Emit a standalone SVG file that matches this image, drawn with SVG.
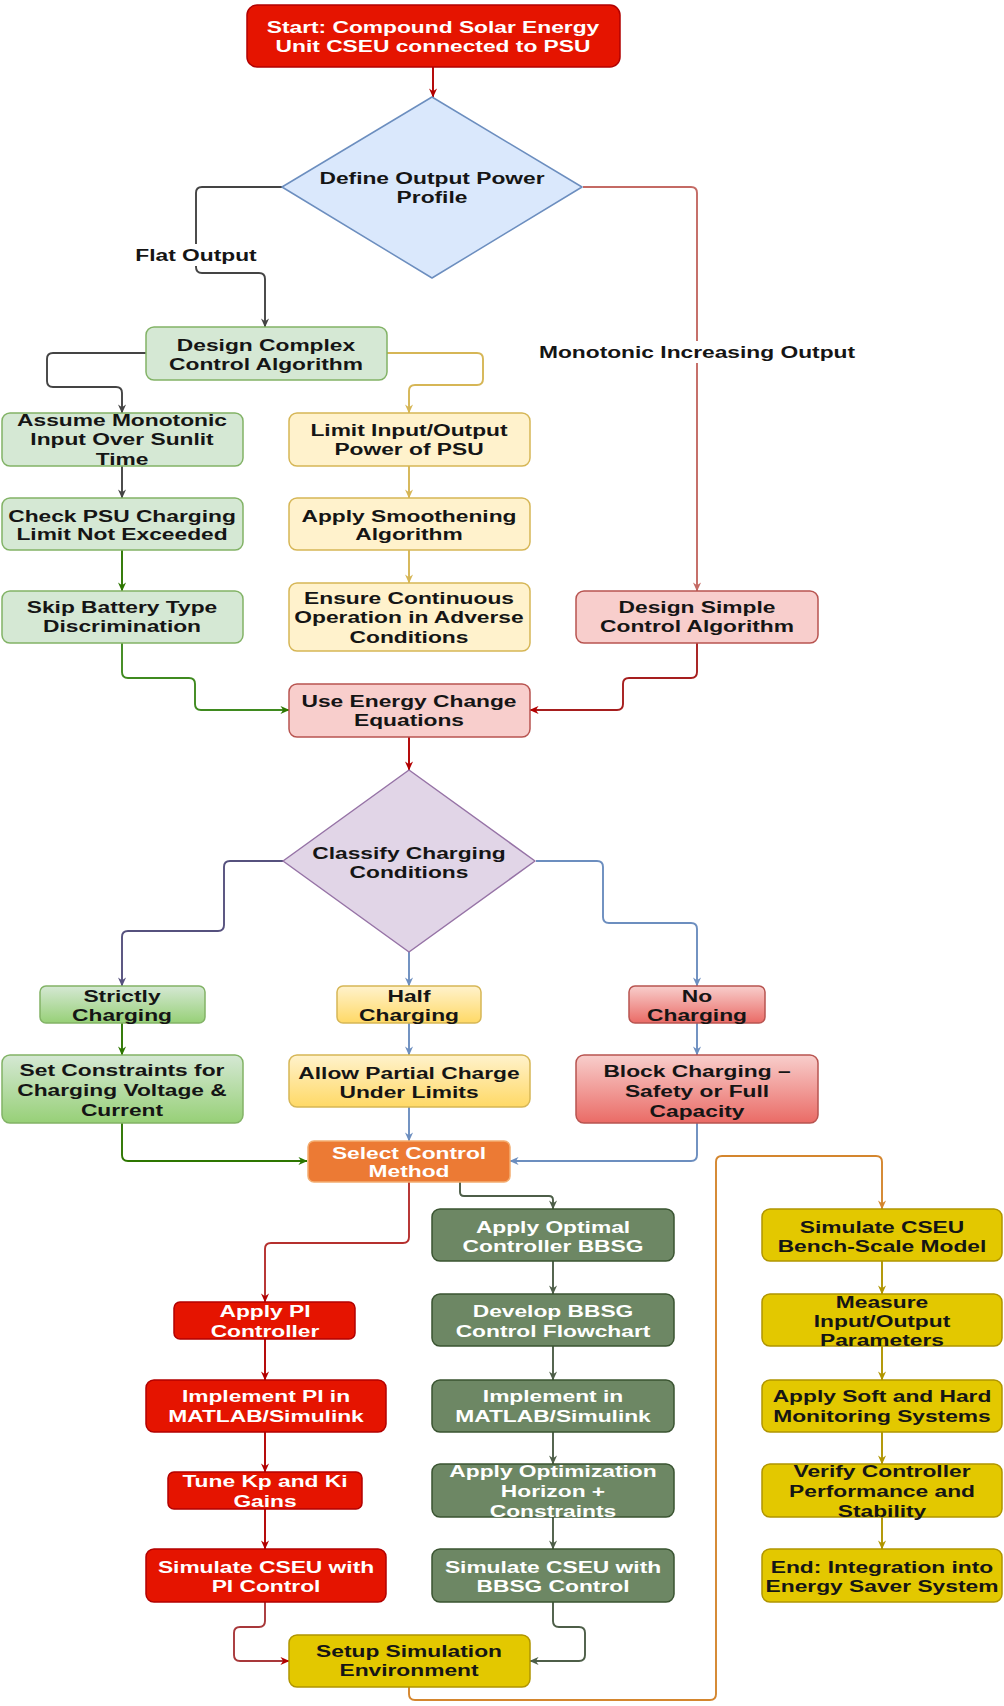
<svg xmlns="http://www.w3.org/2000/svg" width="1004" height="1706" viewBox="0 0 1004 1706">
<style>
.t{font-family:"Liberation Sans",Arial,Helvetica,sans-serif;font-weight:bold;font-size:17px;text-anchor:middle;fill:#151515}
.wt{fill:#ffffff}
.n{stroke-width:1.5}
.c{fill:none;stroke-width:1.9;stroke-linecap:butt}
.red{fill:#e51400;stroke:#b20000}
.grn{fill:#d5e8d4;stroke:#82b366}
.yel{fill:#fff2cc;stroke:#d6b656}
.pnk{fill:#f8cecc;stroke:#b85450}
.blu{fill:#dae8fc;stroke:#6c8ebf}
.pur{fill:#e1d5e7;stroke:#9673a6}
.ggr{fill:url(#gG);stroke:#82b366}
.gyl{fill:url(#gY);stroke:#d6b656}
.grd{fill:url(#gR);stroke:#b85450}
.org{fill:#ec7a34;stroke:#f3ad70}
.olv{fill:#6d8764;stroke:#3a5431}
.gld{fill:#e3c800;stroke:#b09500}
</style>
<defs>
<linearGradient id="gG" x1="0" y1="0" x2="0" y2="1"><stop offset="0" stop-color="#d5e8d4"/><stop offset="1" stop-color="#97d077"/></linearGradient>
<linearGradient id="gY" x1="0" y1="0" x2="0" y2="1"><stop offset="0" stop-color="#fff2cc"/><stop offset="1" stop-color="#ffd966"/></linearGradient>
<linearGradient id="gR" x1="0" y1="0" x2="0" y2="1"><stop offset="0" stop-color="#f8cecc"/><stop offset="1" stop-color="#ea6b66"/></linearGradient>
<marker id="mGy" viewBox="0 0 10 10" refX="9.5" refY="5" markerWidth="9" markerHeight="9" markerUnits="userSpaceOnUse" orient="auto"><path d="M0,0.5 L10,5 L0,9.5 L3,5 z" fill="#444444"/></marker>
<marker id="mRd" viewBox="0 0 10 10" refX="9.5" refY="5" markerWidth="9" markerHeight="9" markerUnits="userSpaceOnUse" orient="auto"><path d="M0,0.5 L10,5 L0,9.5 L3,5 z" fill="#b20000"/></marker>
<marker id="mPk" viewBox="0 0 10 10" refX="9.5" refY="5" markerWidth="9" markerHeight="9" markerUnits="userSpaceOnUse" orient="auto"><path d="M0,0.5 L10,5 L0,9.5 L3,5 z" fill="#c46a64"/></marker>
<marker id="mYl" viewBox="0 0 10 10" refX="9.5" refY="5" markerWidth="9" markerHeight="9" markerUnits="userSpaceOnUse" orient="auto"><path d="M0,0.5 L10,5 L0,9.5 L3,5 z" fill="#d6b656"/></marker>
<marker id="mGn" viewBox="0 0 10 10" refX="9.5" refY="5" markerWidth="9" markerHeight="9" markerUnits="userSpaceOnUse" orient="auto"><path d="M0,0.5 L10,5 L0,9.5 L3,5 z" fill="#2d7600"/></marker>
<marker id="mPu" viewBox="0 0 10 10" refX="9.5" refY="5" markerWidth="9" markerHeight="9" markerUnits="userSpaceOnUse" orient="auto"><path d="M0,0.5 L10,5 L0,9.5 L3,5 z" fill="#56517e"/></marker>
<marker id="mBl" viewBox="0 0 10 10" refX="9.5" refY="5" markerWidth="9" markerHeight="9" markerUnits="userSpaceOnUse" orient="auto"><path d="M0,0.5 L10,5 L0,9.5 L3,5 z" fill="#6c8ebf"/></marker>
<marker id="mOl" viewBox="0 0 10 10" refX="9.5" refY="5" markerWidth="9" markerHeight="9" markerUnits="userSpaceOnUse" orient="auto"><path d="M0,0.5 L10,5 L0,9.5 L3,5 z" fill="#4d5e48"/></marker>
<marker id="mOr" viewBox="0 0 10 10" refX="9.5" refY="5" markerWidth="9" markerHeight="9" markerUnits="userSpaceOnUse" orient="auto"><path d="M0,0.5 L10,5 L0,9.5 L3,5 z" fill="#d4862e"/></marker>
<marker id="mGo" viewBox="0 0 10 10" refX="9.5" refY="5" markerWidth="9" markerHeight="9" markerUnits="userSpaceOnUse" orient="auto"><path d="M0,0.5 L10,5 L0,9.5 L3,5 z" fill="#b09500"/></marker>
</defs>
<rect width="1004" height="1706" fill="#ffffff"/>

<g id="connectors">
<path class="c" stroke="#b20000" stroke-width="2.2" marker-end="url(#mRd)" d="M433,67 V97"/>
<path class="c" stroke="#444444" marker-end="url(#mGy)" d="M282,187 H202 Q196,187 196,193 V267 Q196,273 202,273 H259 Q265,273 265,279 V327"/>
<path class="c" stroke="#c46a64" marker-end="url(#mPk)" d="M583,187 H691 Q697,187 697,193 V591"/>
<path class="c" stroke="#444444" marker-end="url(#mGy)" d="M146,353 H53 Q47,353 47,359 V381 Q47,387 53,387 H116 Q122,387 122,393 V413"/>
<path class="c" stroke="#d6b656" marker-end="url(#mYl)" d="M387,353 H477 Q483,353 483,359 V379 Q483,385 477,385 H415 Q409,385 409,391 V413"/>
<path class="c" stroke="#444444" marker-end="url(#mGy)" d="M122,466 V498"/>
<path class="c" stroke="#2d7600" marker-end="url(#mGn)" d="M122,550 V591"/>
<path class="c" stroke="#3f8a1f" marker-end="url(#mGn)" d="M122,643 V672 Q122,678 128,678 H189 Q195,678 195,684 V704 Q195,710 201,710 H289"/>
<path class="c" stroke="#d6b656" marker-end="url(#mYl)" d="M409,466 V498"/>
<path class="c" stroke="#d6b656" marker-end="url(#mYl)" d="M409,550 V583"/>
<path class="c" stroke="#a61e1e" marker-end="url(#mRd)" d="M697,643 V672 Q697,678 691,678 H629 Q623,678 623,684 V704 Q623,710 617,710 H530"/>
<path class="c" stroke="#b20000" stroke-width="2.6" marker-end="url(#mRd)" d="M409,737 V770"/>
<path class="c" stroke="#56517e" marker-end="url(#mPu)" d="M283,861 H230 Q224,861 224,867 V925 Q224,931 218,931 H128 Q122,931 122,937 V986"/>
<path class="c" stroke="#6c8ebf" marker-end="url(#mBl)" d="M409,952 V986"/>
<path class="c" stroke="#6c8ebf" marker-end="url(#mBl)" d="M536,861 H597 Q603,861 603,867 V917 Q603,923 609,923 H691 Q697,923 697,929 V986"/>
<path class="c" stroke="#2d7600" marker-end="url(#mGn)" d="M122,1023 V1055"/>
<path class="c" stroke="#6c8ebf" marker-end="url(#mBl)" d="M409,1023 V1055"/>
<path class="c" stroke="#6c8ebf" marker-end="url(#mBl)" d="M697,1023 V1055"/>
<path class="c" stroke="#2d7600" marker-end="url(#mGn)" d="M122,1123 V1155 Q122,1161 128,1161 H307"/>
<path class="c" stroke="#6c8ebf" marker-end="url(#mBl)" d="M409,1107 V1141"/>
<path class="c" stroke="#6c8ebf" marker-end="url(#mBl)" d="M697,1123 V1155 Q697,1161 691,1161 H510"/>
<path class="c" stroke="#b5302e" marker-end="url(#mRd)" d="M409,1182 V1237 Q409,1243 403,1243 H271 Q265,1243 265,1249 V1302"/>
<path class="c" stroke="#4d5e48" marker-end="url(#mOl)" d="M460,1182 V1192 Q460,1196 464,1196 H549 Q553,1196 553,1200 V1209"/>
<path class="c" stroke="#b20000" marker-end="url(#mRd)" d="M265,1339 V1380"/>
<path class="c" stroke="#b20000" marker-end="url(#mRd)" d="M265,1432 V1472"/>
<path class="c" stroke="#b20000" marker-end="url(#mRd)" d="M265,1509 V1549"/>
<path class="c" stroke="#4d5e48" marker-end="url(#mOl)" d="M553,1261 V1294"/>
<path class="c" stroke="#4d5e48" marker-end="url(#mOl)" d="M553,1346 V1380"/>
<path class="c" stroke="#4d5e48" marker-end="url(#mOl)" d="M553,1432 V1464"/>
<path class="c" stroke="#4d5e48" marker-end="url(#mOl)" d="M553,1517 V1549"/>
<path class="c" stroke="#b09500" marker-end="url(#mGo)" d="M882,1261 V1294"/>
<path class="c" stroke="#b09500" marker-end="url(#mGo)" d="M882,1346 V1380"/>
<path class="c" stroke="#b09500" marker-end="url(#mGo)" d="M882,1432 V1464"/>
<path class="c" stroke="#b09500" marker-end="url(#mGo)" d="M882,1517 V1549"/>
<path class="c" stroke="#a8383a" marker-end="url(#mRd)" d="M265,1602 V1621 Q265,1627 259,1627 H240 Q234,1627 234,1633 V1655 Q234,1661 240,1661 H289"/>
<path class="c" stroke="#4d5e48" marker-end="url(#mOl)" d="M553,1602 V1621 Q553,1627 559,1627 H579 Q585,1627 585,1633 V1655 Q585,1661 579,1661 H530"/>
<path class="c" stroke="#d4862e" marker-end="url(#mOr)" d="M409,1687 V1694 Q409,1700 415,1700 H710 Q716,1700 716,1694 V1162 Q716,1156 722,1156 H876 Q882,1156 882,1162 V1209"/>
<rect x="136" y="244" width="120" height="22" fill="#ffffff"/>
<text class="t" transform="translate(196 0) scale(1.34 1)"><tspan x="0" y="261">Flat Output</tspan></text>
<rect x="536" y="341" width="323" height="22" fill="#ffffff"/>
<text class="t" transform="translate(697 0) scale(1.34 1)"><tspan x="0" y="358">Monotonic Increasing Output</tspan></text>
</g>

<g id="start"><rect class="n red" x="247" y="5" width="373" height="62" rx="10"/><text class="t wt" transform="translate(433 0) scale(1.34 1)"><tspan x="0" y="33">Start: Compound Solar Energy</tspan><tspan x="0" y="52">Unit CSEU connected to PSU</tspan></text></g>

<g id="define"><path class="n blu" stroke-linejoin="round" d="M432,97 L582,187 L432,278 L282,187 Z"/><text class="t" transform="translate(432 0) scale(1.34 1)"><tspan x="0" y="184">Define Output Power</tspan><tspan x="0" y="203">Profile</tspan></text></g>

<g id="complex"><rect class="n grn" x="146" y="327" width="241" height="53" rx="8"/><text class="t" transform="translate(266 0) scale(1.34 1)"><tspan x="0" y="351">Design Complex</tspan><tspan x="0" y="370">Control Algorithm</tspan></text></g>

<g id="assume"><rect class="n grn" x="2" y="413" width="241" height="53" rx="8"/><text class="t" transform="translate(122 0) scale(1.34 1)"><tspan x="0" y="426">Assume Monotonic</tspan><tspan x="0" y="445">Input Over Sunlit</tspan><tspan x="0" y="465">Time</tspan></text></g>

<g id="check"><rect class="n grn" x="2" y="498" width="241" height="52" rx="8"/><text class="t" transform="translate(122 0) scale(1.34 1)"><tspan x="0" y="522">Check PSU Charging</tspan><tspan x="0" y="540">Limit Not Exceeded</tspan></text></g>

<g id="skip"><rect class="n grn" x="2" y="591" width="241" height="52" rx="8"/><text class="t" transform="translate(122 0) scale(1.34 1)"><tspan x="0" y="613">Skip Battery Type</tspan><tspan x="0" y="632">Discrimination</tspan></text></g>

<g id="limit"><rect class="n yel" x="289" y="413" width="241" height="53" rx="8"/><text class="t" transform="translate(409 0) scale(1.34 1)"><tspan x="0" y="436">Limit Input/Output</tspan><tspan x="0" y="455">Power of PSU</tspan></text></g>

<g id="smooth"><rect class="n yel" x="289" y="498" width="241" height="52" rx="8"/><text class="t" transform="translate(409 0) scale(1.34 1)"><tspan x="0" y="522">Apply Smoothening</tspan><tspan x="0" y="540">Algorithm</tspan></text></g>

<g id="ensure"><rect class="n yel" x="289" y="583" width="241" height="68" rx="8"/><text class="t" transform="translate(409 0) scale(1.34 1)"><tspan x="0" y="604">Ensure Continuous</tspan><tspan x="0" y="623">Operation in Adverse</tspan><tspan x="0" y="643">Conditions</tspan></text></g>

<g id="simple"><rect class="n pnk" x="576" y="591" width="242" height="52" rx="8"/><text class="t" transform="translate(697 0) scale(1.34 1)"><tspan x="0" y="613">Design Simple</tspan><tspan x="0" y="632">Control Algorithm</tspan></text></g>

<g id="energy"><rect class="n pnk" x="289" y="684" width="241" height="53" rx="8"/><text class="t" transform="translate(409 0) scale(1.34 1)"><tspan x="0" y="707">Use Energy Change</tspan><tspan x="0" y="726">Equations</tspan></text></g>

<g id="classify"><path class="n pur" stroke-linejoin="round" d="M409,770 L535,861 L409,952 L283,861 Z"/><text class="t" transform="translate(409 0) scale(1.34 1)"><tspan x="0" y="859">Classify Charging</tspan><tspan x="0" y="878">Conditions</tspan></text></g>

<g id="strictly"><rect class="n ggr" x="40" y="986" width="165" height="37" rx="6"/><text class="t" transform="translate(122 0) scale(1.34 1)"><tspan x="0" y="1002">Strictly</tspan><tspan x="0" y="1021">Charging</tspan></text></g>

<g id="half"><rect class="n gyl" x="337" y="986" width="144" height="37" rx="6"/><text class="t" transform="translate(409 0) scale(1.34 1)"><tspan x="0" y="1002">Half</tspan><tspan x="0" y="1021">Charging</tspan></text></g>

<g id="nocharging"><rect class="n grd" x="629" y="986" width="136" height="37" rx="6"/><text class="t" transform="translate(697 0) scale(1.34 1)"><tspan x="0" y="1002">No</tspan><tspan x="0" y="1021">Charging</tspan></text></g>

<g id="constraints"><rect class="n ggr" x="2" y="1055" width="241" height="68" rx="8"/><text class="t" transform="translate(122 0) scale(1.34 1)"><tspan x="0" y="1076">Set Constraints for</tspan><tspan x="0" y="1096">Charging Voltage &amp;</tspan><tspan x="0" y="1116">Current</tspan></text></g>

<g id="partial"><rect class="n gyl" x="289" y="1055" width="241" height="52" rx="8"/><text class="t" transform="translate(409 0) scale(1.34 1)"><tspan x="0" y="1079">Allow Partial Charge</tspan><tspan x="0" y="1098">Under Limits</tspan></text></g>

<g id="block"><rect class="n grd" x="576" y="1055" width="242" height="68" rx="8"/><text class="t" transform="translate(697 0) scale(1.34 1)"><tspan x="0" y="1077">Block Charging –</tspan><tspan x="0" y="1097">Safety or Full</tspan><tspan x="0" y="1117">Capacity</tspan></text></g>

<g id="select"><rect class="n org" x="308" y="1141" width="202" height="41" rx="6"/><text class="t wt" transform="translate(409 0) scale(1.34 1)"><tspan x="0" y="1159">Select Control</tspan><tspan x="0" y="1177">Method</tspan></text></g>

<g id="applypi"><rect class="n red" x="174" y="1302" width="181" height="37" rx="6"/><text class="t wt" transform="translate(265 0) scale(1.34 1)"><tspan x="0" y="1317">Apply PI</tspan><tspan x="0" y="1337">Controller</tspan></text></g>

<g id="implpi"><rect class="n red" x="146" y="1380" width="240" height="52" rx="8"/><text class="t wt" transform="translate(266 0) scale(1.34 1)"><tspan x="0" y="1402">Implement PI in</tspan><tspan x="0" y="1422">MATLAB/Simulink</tspan></text></g>

<g id="tune"><rect class="n red" x="168" y="1472" width="194" height="37" rx="6"/><text class="t wt" transform="translate(265 0) scale(1.34 1)"><tspan x="0" y="1487">Tune Kp and Ki</tspan><tspan x="0" y="1507">Gains</tspan></text></g>

<g id="simpi"><rect class="n red" x="146" y="1549" width="240" height="53" rx="8"/><text class="t wt" transform="translate(266 0) scale(1.34 1)"><tspan x="0" y="1573">Simulate CSEU with</tspan><tspan x="0" y="1592">PI Control</tspan></text></g>

<g id="applyopt"><rect class="n olv" x="432" y="1209" width="242" height="52" rx="8"/><text class="t wt" transform="translate(553 0) scale(1.34 1)"><tspan x="0" y="1233">Apply Optimal</tspan><tspan x="0" y="1252">Controller BBSG</tspan></text></g>

<g id="develop"><rect class="n olv" x="432" y="1294" width="242" height="52" rx="8"/><text class="t wt" transform="translate(553 0) scale(1.34 1)"><tspan x="0" y="1317">Develop BBSG</tspan><tspan x="0" y="1337">Control Flowchart</tspan></text></g>

<g id="implbbsg"><rect class="n olv" x="432" y="1380" width="242" height="52" rx="8"/><text class="t wt" transform="translate(553 0) scale(1.34 1)"><tspan x="0" y="1402">Implement in</tspan><tspan x="0" y="1422">MATLAB/Simulink</tspan></text></g>

<g id="horizon"><rect class="n olv" x="432" y="1464" width="242" height="53" rx="8"/><text class="t wt" transform="translate(553 0) scale(1.34 1)"><tspan x="0" y="1477">Apply Optimization</tspan><tspan x="0" y="1497">Horizon +</tspan><tspan x="0" y="1517">Constraints</tspan></text></g>

<g id="simbbsg"><rect class="n olv" x="432" y="1549" width="242" height="53" rx="8"/><text class="t wt" transform="translate(553 0) scale(1.34 1)"><tspan x="0" y="1573">Simulate CSEU with</tspan><tspan x="0" y="1592">BBSG Control</tspan></text></g>

<g id="setup"><rect class="n gld" x="289" y="1635" width="241" height="52" rx="8"/><text class="t" transform="translate(409 0) scale(1.34 1)"><tspan x="0" y="1657">Setup Simulation</tspan><tspan x="0" y="1676">Environment</tspan></text></g>

<g id="bench"><rect class="n gld" x="762" y="1209" width="240" height="52" rx="8"/><text class="t" transform="translate(882 0) scale(1.34 1)"><tspan x="0" y="1233">Simulate CSEU</tspan><tspan x="0" y="1252">Bench-Scale Model</tspan></text></g>

<g id="measure"><rect class="n gld" x="762" y="1294" width="240" height="52" rx="8"/><text class="t" transform="translate(882 0) scale(1.34 1)"><tspan x="0" y="1308">Measure</tspan><tspan x="0" y="1327">Input/Output</tspan><tspan x="0" y="1346">Parameters</tspan></text></g>

<g id="monitor"><rect class="n gld" x="762" y="1380" width="240" height="52" rx="8"/><text class="t" transform="translate(882 0) scale(1.34 1)"><tspan x="0" y="1402">Apply Soft and Hard</tspan><tspan x="0" y="1422">Monitoring Systems</tspan></text></g>

<g id="verify"><rect class="n gld" x="762" y="1464" width="240" height="53" rx="8"/><text class="t" transform="translate(882 0) scale(1.34 1)"><tspan x="0" y="1477">Verify Controller</tspan><tspan x="0" y="1497">Performance and</tspan><tspan x="0" y="1517">Stability</tspan></text></g>

<g id="end"><rect class="n gld" x="762" y="1549" width="240" height="53" rx="8"/><text class="t" transform="translate(882 0) scale(1.34 1)"><tspan x="0" y="1573">End: Integration into</tspan><tspan x="0" y="1592">Energy Saver System</tspan></text></g>
</svg>
